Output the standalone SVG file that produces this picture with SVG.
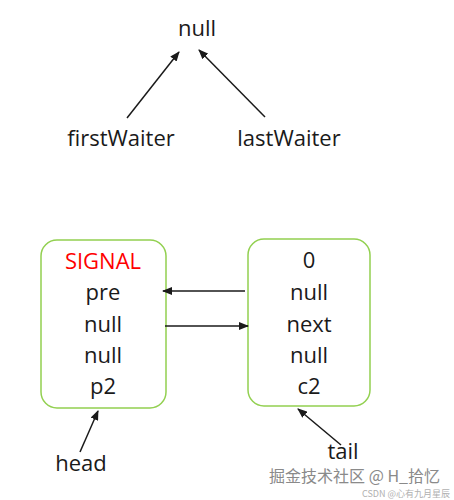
<svg xmlns="http://www.w3.org/2000/svg" width="454" height="500" viewBox="0 0 454 500">
<style>
.t{font-family:"Open Sans","Liberation Sans",sans-serif;font-size:22px;fill:#1a1a1a;text-anchor:middle}
.box{fill:#fff;stroke:#92d050;stroke-width:1.5}
.ln{stroke:#1a1a1a;stroke-width:1.5;fill:none;marker-end:url(#ah)}
.wm{font-family:"Noto Sans CJK SC",sans-serif;fill:#8a8a8a;text-anchor:end}
</style>
<defs>
<marker id="ah" markerWidth="10" markerHeight="8" refX="9" refY="4" orient="auto" markerUnits="userSpaceOnUse">
<path d="M0,0 L10,4 L0,8 z" fill="#1a1a1a"/>
</marker>
</defs>
<rect width="454" height="500" fill="#fff"/>
<g id="null-top"><text class="t" x="197" y="36">null</text></g>
<g id="firstWaiter"><text class="t" x="121" y="146">firstWaiter</text></g>
<g id="lastWaiter"><text class="t" x="289" y="146">lastWaiter</text></g>
<g id="node-head">
<rect class="box" x="41" y="240" width="125" height="168" rx="16"/>
<text class="t" x="103" y="269" style="fill:#ff0000">SIGNAL</text>
<text class="t" x="103" y="300">pre</text>
<text class="t" x="103" y="332">null</text>
<text class="t" x="103" y="363">null</text>
<text class="t" x="103" y="394">p2</text>
</g>
<g id="node-tail">
<rect class="box" x="248" y="239" width="122" height="167" rx="16"/>
<text class="t" x="309" y="268">0</text>
<text class="t" x="309" y="300">null</text>
<text class="t" x="309" y="332">next</text>
<text class="t" x="309" y="363">null</text>
<text class="t" x="309" y="394">c2</text>
</g>
<g id="head"><text class="t" x="81" y="471">head</text></g>
<g id="tail"><text class="t" x="343" y="459">tail</text></g>
<g id="connectors">
<line class="ln" x1="127" y1="118" x2="179" y2="52"/>
<line class="ln" x1="265" y1="117" x2="199" y2="50"/>
<line class="ln" x1="245" y1="291" x2="163" y2="291"/>
<line class="ln" x1="165" y1="326" x2="248" y2="326"/>
<line class="ln" x1="80" y1="452" x2="98" y2="411"/>
<line class="ln" x1="341" y1="445" x2="298" y2="409"/>
</g>
<g id="watermark">
<text class="wm" x="440" y="482" font-size="16">掘金技术社区 @ H_拾忆</text>
<text class="wm" x="450" y="497" font-size="9" style="fill:#b0b0b0">CSDN @心有九月星辰</text>
</g>
</svg>
